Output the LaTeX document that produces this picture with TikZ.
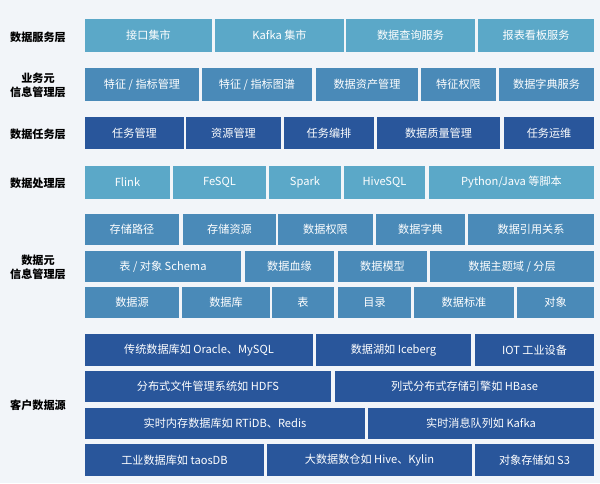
\documentclass[tikz,border=0pt]{standalone}
\usepackage{fontspec}
\setmainfont{Noto Sans CJK SC}
\tikzset{
    cell/.style={rectangle, inner sep=0pt, outer sep=0pt, text=white, font=\fontsize{9.5}{11}\selectfont},
    teal/.style={cell, fill=tealblue},
    steel/.style={cell, fill=steelblue},
    navy/.style={cell, fill=navyblue},
    layer/.style={align=center, font=\fontsize{9.5}{12}\selectfont\bfseries, text=black}
}
\definecolor{tealblue}{RGB}{91,168,200}
\definecolor{steelblue}{RGB}{74,138,184}
\definecolor{navyblue}{RGB}{41,86,155}
\definecolor{bg}{RGB}{242,245,249}
% one box from its pixel corners
\newcommand{\cell}[7]{\node (#1) [#2, minimum width={(#5-#3)*0.03cm}, minimum height={(#6-#4)*0.03cm}] at ({(#3+#5)/2},{(#4+#6)/2}) {#7};}
\begin{document}
\begin{tikzpicture}[x=0.03cm, y=-0.03cm]
    \fill[bg] (0,0) rectangle (600,483);
    \useasboundingbox (0,0) rectangle (600,483);

    % --- ETIQUETTES ---
    \node (l_service) [layer] at (38,37) {数据服务层};
    \node (l_business) [layer] at (38,85) {业务元\\信息管理层};
    \node (l_task) [layer] at (38,134) {数据任务层};
    \node (l_process) [layer] at (38,183) {数据处理层};
    \node (l_meta) [layer] at (38,267) {数据元\\信息管理层};
    \node (l_client) [layer] at (38,405) {客户数据源};

    % --- SERVICE ---
    \cell{svc_api}{teal}{85}{19}{212}{52}{接口集市}
    \cell{svc_kafka}{teal}{215}{19}{344}{52}{Kafka 集市}
    \cell{svc_query}{teal}{346}{19}{475}{52}{数据查询服务}
    \cell{svc_board}{teal}{478}{19}{594}{52}{报表看板服务}

    % --- METIER ---
    \cell{biz_feat}{steel}{85}{68}{199}{101}{特征 / 指标管理}
    \cell{biz_graph}{steel}{202}{68}{312}{101}{特征 / 指标图谱}
    \cell{biz_asset}{steel}{316}{68}{418}{101}{数据资产管理}
    \cell{biz_perm}{steel}{421}{68}{496}{101}{特征权限}
    \cell{biz_dict}{steel}{499}{68}{594}{101}{数据字典服务}

    % --- TACHES ---
    \cell{task_mgmt}{navy}{85}{117}{184}{149}{任务管理}
    \cell{task_res}{navy}{186}{117}{281}{149}{资源管理}
    \cell{task_sched}{navy}{284}{117}{374}{149}{任务编排}
    \cell{task_quality}{navy}{377}{117}{500}{149}{数据质量管理}
    \cell{task_ops}{navy}{504}{117}{594}{149}{任务运维}

    % --- TRAITEMENT ---
    \cell{proc_flink}{teal}{85}{166}{170}{199}{Flink}
    \cell{proc_fesql}{teal}{173}{166}{266}{199}{FeSQL}
    \cell{proc_spark}{teal}{269}{166}{341}{199}{Spark}
    \cell{proc_hive}{teal}{344}{166}{425}{199}{HiveSQL}
    \cell{proc_script}{teal}{429}{166}{594}{199}{Python/Java 等脚本}

    % --- METADONNEES ---
    \cell{meta_path}{steel}{85}{214}{179}{245}{存储路径}
    \cell{meta_res}{steel}{183}{214}{276}{245}{存储资源}
    \cell{meta_perm}{steel}{278}{214}{373}{245}{数据权限}
    \cell{meta_dict}{steel}{376}{214}{465}{245}{数据字典}
    \cell{meta_ref}{steel}{468}{214}{594}{245}{数据引用关系}
    \cell{meta_schema}{steel}{85}{251}{241}{282}{表 / 对象 Schema}
    \cell{meta_lineage}{steel}{245}{251}{334}{282}{数据血缘}
    \cell{meta_model}{steel}{338}{251}{427}{282}{数据模型}
    \cell{meta_domain}{steel}{430}{251}{594}{282}{数据主题域 / 分层}
    \cell{meta_src}{steel}{85}{287}{179}{318}{数据源}
    \cell{meta_db}{steel}{182}{287}{270}{318}{数据库}
    \cell{meta_table}{steel}{272}{287}{334}{318}{表}
    \cell{meta_cat}{steel}{338}{287}{411}{318}{目录}
    \cell{meta_std}{steel}{414}{287}{514}{318}{数据标准}
    \cell{meta_obj}{steel}{517}{287}{594}{318}{对象}

    % --- SOURCES ---
    \cell{src_rdb}{navy}{85}{334}{313}{366}{传统数据库如 Oracle、MySQL}
    \cell{src_lake}{navy}{316}{334}{471}{366}{数据湖如 Iceberg}
    \cell{src_iot}{navy}{475}{334}{594}{366}{IOT 工业设备}
    \cell{src_hdfs}{navy}{85}{371}{331}{402}{分布式文件管理系统如 HDFS}
    \cell{src_hbase}{navy}{335}{371}{594}{402}{列式分布式存储引擎如 HBase}
    \cell{src_redis}{navy}{85}{408}{365}{439}{实时内存数据库如 RTiDB、Redis}
    \cell{src_kafka}{navy}{368}{408}{594}{439}{实时消息队列如 Kafka}
    \cell{src_taos}{navy}{85}{444}{264}{476}{工业数据库如 taosDB}
    \cell{src_hive}{navy}{267}{444}{472}{476}{大数据数仓如 Hive、Kylin}
    \cell{src_s3}{navy}{475}{444}{594}{476}{对象存储如 S3}
\end{tikzpicture}
\end{document}
